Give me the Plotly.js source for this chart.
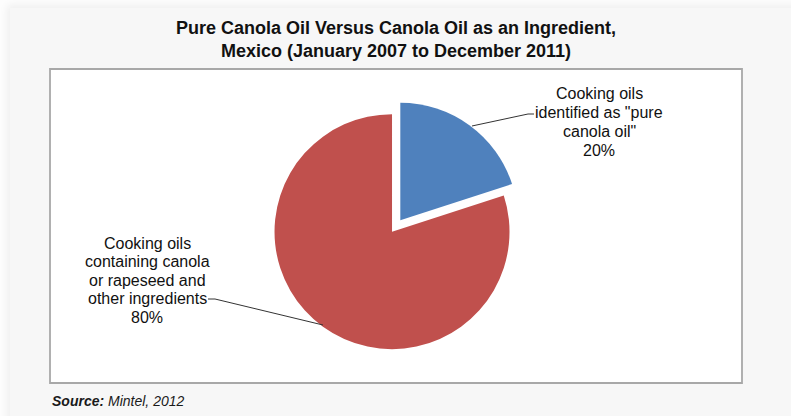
<!DOCTYPE html>
<html>
<head>
<meta charset="utf-8">
<script src="https://cdn.plot.ly/plotly-3.0.1.min.js"></script>
<style>
  html, body { margin: 0; padding: 0; background: #fdfdfd; width: 791px; height: 416px; overflow: hidden; }
  #bg { position: absolute; left: 10px; top: 8px; width: 800px; height: 420px; background: #f7f7f7;
        box-shadow: -3px -3px 8px rgba(0,0,0,0.06); }
  #chart { position: absolute; left: 0; top: 0; width: 791px; height: 416px; }
</style>
</head>
<body>
<div id="bg"></div>
<div id="chart"></div>
<script>
// ---- data ----
const titleText = 'Pure Canola Oil Versus Canola Oil as an Ingredient,<br>Mexico (January 2007 to December 2011)';
const sliceLabels = [
  'Cooking oils<br>identified as "pure<br>canola oil"',
  'Cooking oils<br>containing canola<br>or rapeseed and<br>other ingredients'
];
const sliceValues = [20, 80];
const sliceColors = ['#4F81BD', '#C0504D'];
const sourceLabel = 'Source:';
const sourceText = 'Mintel, 2012';

// ---- layout helpers ----
const W = 791, H = 416;
const fx = x => x / W;
const fy = y => 1 - y / H;
const total = sliceValues.reduce((a, b) => a + b, 0);
const pct = sliceValues.map(v => Math.round(v / total * 100) + '%');

const labelFont = { family: 'Liberation Sans, Arial, sans-serif', size: 16, color: '#111111' };
const labelPos = [
  { cx: 599, y0: 94, dy: 18.7 },
  { cx: 147, y0: 243, dy: 18.5 }
];

const annotations = [];
sliceLabels.forEach((lab, i) => {
  const lines = lab.split('<br>').concat([pct[i]]);
  lines.forEach((ln, j) => {
    annotations.push({
      xref: 'paper', yref: 'paper', x: fx(labelPos[i].cx), y: fy(labelPos[i].y0 + j * labelPos[i].dy),
      xanchor: 'center', yanchor: 'middle', showarrow: false, text: ln, font: labelFont
    });
  });
});
annotations.push({
  xref: 'paper', yref: 'paper', x: fx(50), y: fy(401), xanchor: 'left', yanchor: 'middle', showarrow: false,
  text: '<b><i>' + sourceLabel + '</i></b><i> ' + sourceText + '</i>',
  font: { family: 'Liberation Sans, Arial, sans-serif', size: 14, color: '#1a1a1a' }
});

function path(pts) {
  return pts.map((p, k) => (k ? 'L' : 'M') + fx(p[0]).toFixed(5) + ',' + fy(p[1]).toFixed(5)).join(' ');
}

const shapes = [
  { type: 'rect', xref: 'paper', yref: 'paper', x0: fx(50), x1: fx(742), y0: fy(383), y1: fy(69),
    fillcolor: '#ffffff', line: { color: '#a8a8a8', width: 1.8 }, layer: 'below' },
  { type: 'path', xref: 'paper', yref: 'paper', path: path([[472, 126], [528, 114], [534, 114]]),
    line: { color: '#333333', width: 1 } },
  { type: 'path', xref: 'paper', yref: 'paper', path: path([[208, 299], [215, 299], [323, 325]]),
    line: { color: '#333333', width: 1 } }
];

const trace = {
  type: 'pie',
  labels: sliceLabels.map(s => s.replace(/<br>/g, ' ')),
  values: sliceValues,
  sort: false,
  direction: 'clockwise',
  rotation: 0,
  pull: [0.12, 0],
  marker: { colors: sliceColors, line: { width: 0 } },
  textinfo: 'none',
  hoverinfo: 'label+percent',
  showlegend: false,
  domain: { x: [0.2956, 0.6956], y: [0.1267, 0.7594] }
};

const layout = {
  width: W, height: H,
  margin: { l: 0, r: 0, t: 0, b: 0 },
  paper_bgcolor: 'rgba(0,0,0,0)',
  plot_bgcolor: 'rgba(0,0,0,0)',
  title: {
    text: titleText,
    x: fx(396), xanchor: 'center',
    y: fy(34), yanchor: 'middle', yref: 'container',
    font: { family: 'Liberation Sans, Arial, sans-serif', size: 18, weight: 'bold', color: '#111111' }
  },
  shapes: shapes,
  annotations: annotations,
  showlegend: false
};

Plotly.newPlot('chart', [trace], layout, { displayModeBar: false, staticPlot: true });
</script>
</body>
</html>
